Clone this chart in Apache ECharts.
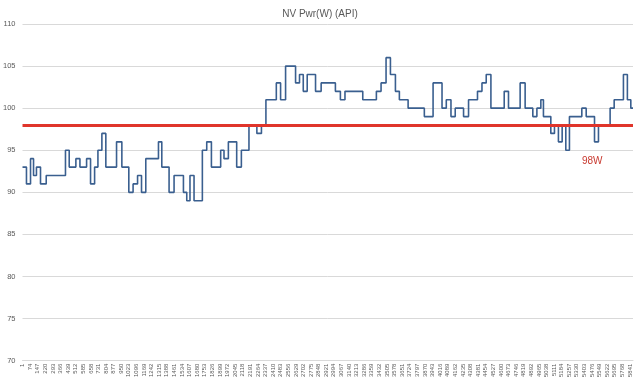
<!DOCTYPE html>
<html>
<head>
<meta charset="utf-8">
<script src="https://cdn.jsdelivr.net/npm/echarts@6/dist/echarts.min.js"></script>
<style>
html,body{margin:0;padding:0;background:#fff;}
#chart{width:640px;height:380px;}
</style>
</head>
<body>
<div id="chart"></div>
<script>
// Row index where each step begins, and the power value held from that row
var stepRows = [1,39,78,107,135,174,229,414,450,514,553,617,655,694,726,764,802,905,956,1023,
  1064,1107,1145,1186,1308,1340,1410,1458,1548,1580,1611,1650,1730,1772,1817,1906,1938,1980,2060,2105,
  2178,2254,2298,2341,2441,2482,2530,2626,2664,2700,2738,2818,2872,3009,3057,3101,3272,3403,3448,3496,
  3538,3586,3624,3708,3864,3948,4034,4075,4120,4161,4241,4289,4375,4418,4459,4504,4632,4673,4785,4833,
  4907,4946,4984,5009,5080,5115,5153,5189,5224,5259,5378,5420,5500,5538,5650,5689,5778,5816,5849,5870];
var stepValues = [93,91,94,92,93,91,92,95,93,94,93,94,91,93,95,97,93,96,93,90,
  91,92,90,94,96,93,90,92,90,89,92,89,95,96,93,95,94,96,93,95,
  98,97,98,101,103,101,105,103,104,102,104,102,103,102,101,102,101,102,103,106,
  104,102,101,100,99,103,100,101,99,100,99,101,102,103,104,100,102,100,103,100,
  99,100,101,99,97,98,96,98,95,99,100,99,96,98,100,101,104,101,100,100];
var tickLabels = [];
for (var t = 1; t <= 5841; t += 73) tickLabels.push(t);
var limitValue = 98;
var limitLabel = '98W';
var titleText = 'NV Pwr(W) (API)';

var data = stepRows.map(function (r, i) { return [r, stepValues[i]]; });

var chart = echarts.init(document.getElementById('chart'), null, {renderer: 'canvas'});
chart.setOption({
  animation: false,
  backgroundColor: '#ffffff',
  title: {
    text: titleText,
    left: 'center',
    top: 4,
    textStyle: {fontFamily: 'Liberation Sans', fontSize: 10, fontWeight: 'normal', color: '#595959'}
  },
  grid: {left: 21.5, right: 7, top: 24, bottom: 18, containLabel: false},
  xAxis: {
    type: 'value',
    min: 1,
    max: 5870,
    axisLine: {show: true, lineStyle: {color: '#d9d9d9', width: 1}},
    axisTick: {show: false},
    splitLine: {show: false},
    axisLabel: {
      customValues: tickLabels,
      formatter: function (v) { return String(v); },
      rotate: 90,
      fontFamily: 'Liberation Sans',
      fontSize: 6,
      color: '#595959',
      margin: 3
    }
  },
  yAxis: {
    type: 'value',
    min: 70,
    max: 110,
    interval: 5,
    axisLine: {show: false},
    axisTick: {show: false},
    splitLine: {lineStyle: {color: '#d9d9d9', width: 1}},
    axisLabel: {fontFamily: 'Liberation Sans', fontSize: 7.5, color: '#595959', margin: 7}
  },
  series: [{
    type: 'line',
    step: 'end',
    data: data,
    showSymbol: false,
    lineStyle: {color: '#3a5f8f', width: 1.6},
    markLine: {
      silent: true,
      symbol: 'none',
      lineStyle: {color: '#e0352b', width: 3, type: 'solid'},
      label: {show: false},
      data: [{yAxis: limitValue}]
    }
  }],
  graphic: [{
    type: 'text',
    left: 582,
    top: 156,
    style: {text: limitLabel, fill: '#c8392f', fontFamily: 'Liberation Sans', fontSize: 10}
  }]
});
</script>
</body>
</html>
